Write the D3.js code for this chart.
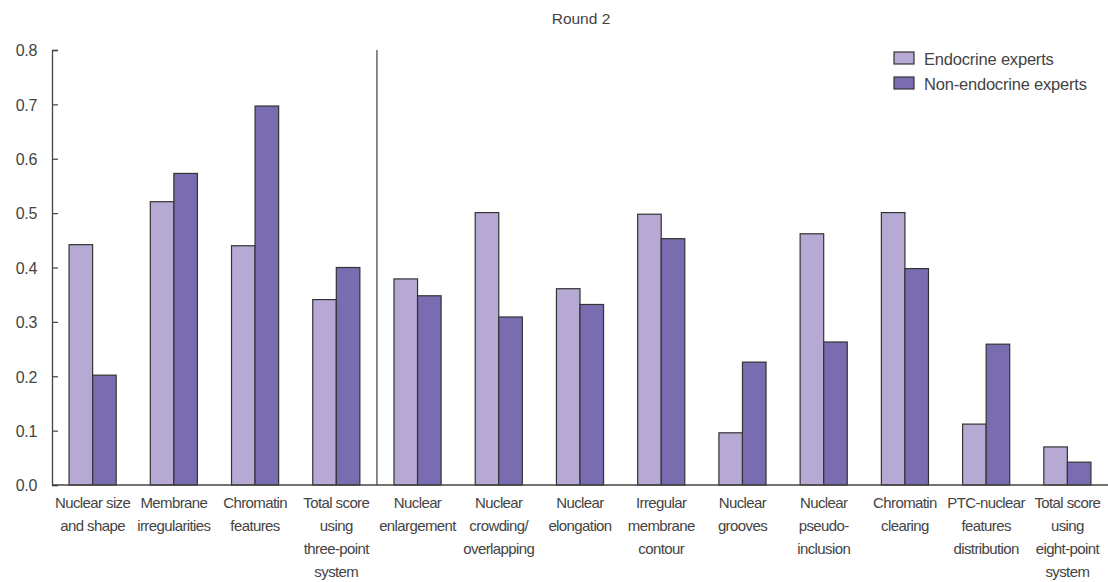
<!DOCTYPE html>
<html>
<head>
<meta charset="utf-8">
<script src="https://cdn.jsdelivr.net/npm/d3@7"></script>
<style>
  body { margin: 0; background: #fff; }
  text { font-family: "Liberation Sans", Arial, sans-serif; fill: #444; }
</style>
</head>
<body>
<svg id="chart"></svg>
<script>
let categories = [
  ["Nuclear size", "and shape"],
  ["Membrane", "irregularities"],
  ["Chromatin", "features"],
  ["Total score", "using", "three-point", "system"],
  ["Nuclear", "enlargement"],
  ["Nuclear", "crowding/", "overlapping"],
  ["Nuclear", "elongation"],
  ["Irregular", "membrane", "contour"],
  ["Nuclear", "grooves"],
  ["Nuclear", "pseudo-", "inclusion"],
  ["Chromatin", "clearing"],
  ["PTC-nuclear", "features", "distribution"],
  ["Total score", "using", "eight-point", "system"]
];
let seriesNames = ["Endocrine experts", "Non-endocrine experts"];
let endocrine =    [0.442, 0.521, 0.440, 0.341, 0.379, 0.501, 0.361, 0.498, 0.096, 0.462, 0.501, 0.112, 0.070];
let nonEndocrine = [0.202, 0.573, 0.697, 0.400, 0.348, 0.309, 0.332, 0.453, 0.226, 0.263, 0.398, 0.259, 0.042];
let yTicks = [0, 0.1, 0.2, 0.3, 0.4, 0.5, 0.6, 0.7, 0.8];
let colors = ["#b6aad4", "#7a6cb0"];

let width = 1108, height = 582;
let plotLeft = 52, plotRight = 1108, plotTop = 50, plotBottom = 485;

let svg = d3.select("#chart").attr("width", width).attr("height", height);

let x0 = d3.scaleBand()
  .domain(d3.range(categories.length))
  .range([plotLeft, plotRight])
  .paddingInner(0.42)
  .paddingOuter(0.21);
let x1 = d3.scaleBand().domain([0, 1]).range([0, x0.bandwidth()]);
let y = d3.scaleLinear().domain([0, 0.8]).range([plotBottom, plotTop]);

// title
svg.append("text")
  .attr("x", 581).attr("y", 24)
  .attr("text-anchor", "middle")
  .style("font-size", "15.5px")
  .text("Round 2");

// bars
let groups = svg.selectAll("g.grp")
  .data(categories)
  .enter().append("g")
  .attr("class", "grp")
  .attr("transform", (d, i) => "translate(" + x0(i) + ",0)");

groups.selectAll("rect")
  .data((d, i) => [endocrine[i], nonEndocrine[i]])
  .enter().append("rect")
  .attr("x", (d, j) => x1(j))
  .attr("y", d => y(d))
  .attr("width", x1.bandwidth())
  .attr("height", d => y(0) - y(d))
  .attr("fill", (d, j) => colors[j])
  .attr("stroke", "#333")
  .attr("stroke-width", 1.2);

// divider between the two scoring systems
let divX = (x0(3) + x0.bandwidth() + x0(4)) / 2;
svg.append("line")
  .attr("x1", divX).attr("x2", divX)
  .attr("y1", y(0.8)).attr("y2", y(0))
  .attr("stroke", "#666").attr("stroke-width", 1.5);

// y axis
let yAxis = svg.append("g")
  .attr("transform", "translate(" + plotLeft + ",0)")
  .call(d3.axisRight(y).tickValues(yTicks).tickSize(6).tickFormat(d3.format(".1f")));
yAxis.select(".domain").attr("stroke", "#444").attr("stroke-width", 1.3);
yAxis.selectAll(".tick line").attr("stroke", "#444").attr("stroke-width", 1.2);
yAxis.selectAll(".tick text")
  .attr("x", -15).attr("dy", "0.36em")
  .attr("text-anchor", "end")
  .style("font-size", "16px")
  .style("letter-spacing", "-0.3px")
  .attr("fill", "#444");

// x axis baseline
svg.append("line")
  .attr("x1", plotLeft).attr("x2", plotRight)
  .attr("y1", y(0)).attr("y2", y(0))
  .attr("stroke", "#444").attr("stroke-width", 1.5);

// category labels
let labels = svg.selectAll("text.cat")
  .data(categories)
  .enter().append("text")
  .attr("class", "cat")
  .attr("text-anchor", "middle")
  .style("font-size", "15px")
  .style("letter-spacing", "-0.6px");
labels.selectAll("tspan")
  .data((d, i) => d.map(s => ({ s: s, i: i })))
  .enter().append("tspan")
  .attr("x", d => x0(d.i) + x0.bandwidth() / 2)
  .attr("y", (d, k) => 508 + k * 23)
  .text(d => d.s);

// legend
let legend = svg.append("g").attr("transform", "translate(894,52)");
seriesNames.forEach((name, j) => {
  legend.append("rect")
    .attr("x", 0).attr("y", j * 25)
    .attr("width", 20).attr("height", 12)
    .attr("fill", colors[j])
    .attr("stroke", "#333").attr("stroke-width", 1.2);
  legend.append("text")
    .attr("x", 30).attr("y", j * 25 + 13)
    .style("font-size", "16.5px")
    .style("letter-spacing", "-0.2px")
    .text(name);
});
</script>
</body>
</html>
